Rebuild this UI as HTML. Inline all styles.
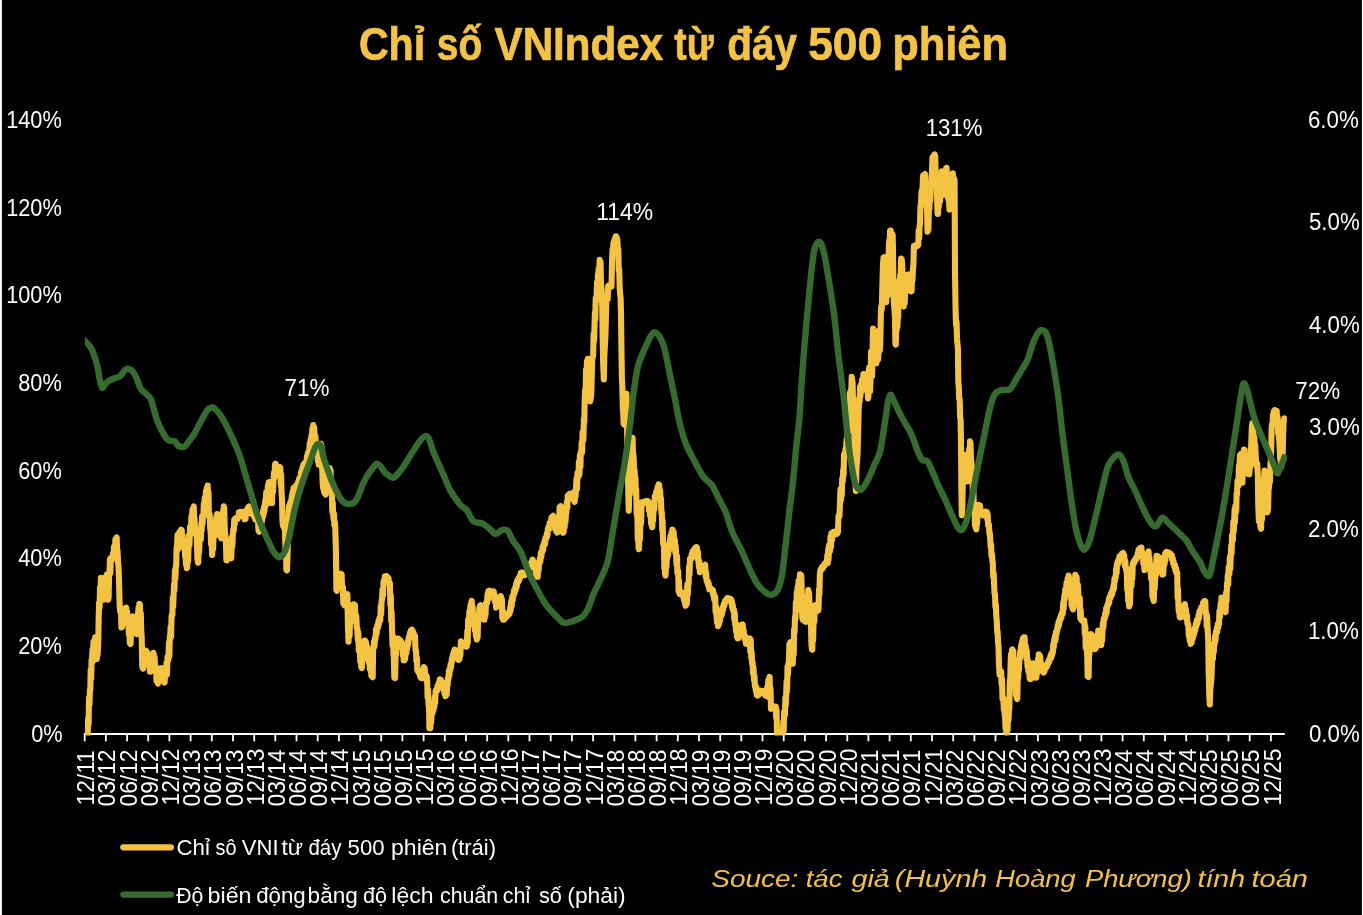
<!DOCTYPE html>
<html lang="vi"><head><meta charset="utf-8"><title>Chỉ số VNIndex từ đáy 500 phiên</title>
<style>html,body{margin:0;padding:0;background:#000}body{width:1363px;height:915px;overflow:hidden;position:relative}svg{will-change:transform;position:absolute;left:0;top:0;display:block}text{font-family:"Liberation Sans",sans-serif}</style></head><body>
<svg width="1363" height="915" viewBox="0 0 1363 915">
<rect x="0" y="0" width="1363" height="915" fill="#000"/>
<rect x="0" y="0" width="1.9" height="915" fill="#fff"/>
<rect x="1361.9" y="0" width="1.1" height="915" fill="#fff"/>
<g stroke="#F5C342" stroke-width="0.7" stroke-linejoin="round">
<text y="59.60" font-size="46" fill="#F5C342" font-weight="bold"><tspan x="358.91" textLength="66.29" lengthAdjust="spacingAndGlyphs">Chỉ</tspan> <tspan x="436.85" textLength="45.37" lengthAdjust="spacingAndGlyphs">số</tspan> <tspan x="494.50" textLength="168.72" lengthAdjust="spacingAndGlyphs">VNIndex</tspan> <tspan x="674.30" textLength="39.34" lengthAdjust="spacingAndGlyphs">từ</tspan> <tspan x="727.22" textLength="69.71" lengthAdjust="spacingAndGlyphs">đáy</tspan> <tspan x="808.24" textLength="73.78" lengthAdjust="spacingAndGlyphs">500</tspan> <tspan x="892.27" textLength="115.71" lengthAdjust="spacingAndGlyphs">phiên</tspan></text>
</g>
<text transform="translate(31.23 741.50) scale(0.9222 1)" font-size="23.6" fill="#fff">0%</text>
<text transform="translate(18.23 653.86) scale(0.9222 1)" font-size="23.6" fill="#fff">20%</text>
<text transform="translate(18.23 566.21) scale(0.9222 1)" font-size="23.6" fill="#fff">40%</text>
<text transform="translate(18.23 478.57) scale(0.9222 1)" font-size="23.6" fill="#fff">60%</text>
<text transform="translate(18.23 390.93) scale(0.9222 1)" font-size="23.6" fill="#fff">80%</text>
<text transform="translate(6.13 303.29) scale(0.9222 1)" font-size="23.6" fill="#fff">100%</text>
<text transform="translate(6.13 215.64) scale(0.9222 1)" font-size="23.6" fill="#fff">120%</text>
<text transform="translate(6.13 128.00) scale(0.9222 1)" font-size="23.6" fill="#fff">140%</text>
<text transform="translate(1308.90 741.50) scale(0.9451 1)" font-size="23.6" fill="#fff">0.0%</text>
<text transform="translate(1307.95 639.25) scale(0.9451 1)" font-size="23.6" fill="#fff">1.0%</text>
<text transform="translate(1307.95 537.00) scale(0.9451 1)" font-size="23.6" fill="#fff">2.0%</text>
<text transform="translate(1308.90 434.75) scale(0.9451 1)" font-size="23.6" fill="#fff">3.0%</text>
<text transform="translate(1308.90 332.50) scale(0.9451 1)" font-size="23.6" fill="#fff">4.0%</text>
<text transform="translate(1308.90 230.25) scale(0.9451 1)" font-size="23.6" fill="#fff">5.0%</text>
<text transform="translate(1307.95 128.00) scale(0.9451 1)" font-size="23.6" fill="#fff">6.0%</text>
<path d="M83.8 734.0 H1284.8" stroke="#fff" stroke-width="1.8" fill="none"/>
<path d="M84.7 733.5 V741.3 M105.9 733.5 V741.3 M127.1 733.5 V741.3 M148.2 733.5 V741.3 M169.4 733.5 V741.3 M190.6 733.5 V741.3 M211.8 733.5 V741.3 M233.0 733.5 V741.3 M254.2 733.5 V741.3 M275.3 733.5 V741.3 M296.5 733.5 V741.3 M317.7 733.5 V741.3 M338.9 733.5 V741.3 M360.1 733.5 V741.3 M381.2 733.5 V741.3 M402.4 733.5 V741.3 M423.6 733.5 V741.3 M444.8 733.5 V741.3 M466.0 733.5 V741.3 M487.2 733.5 V741.3 M508.3 733.5 V741.3 M529.5 733.5 V741.3 M550.7 733.5 V741.3 M571.9 733.5 V741.3 M593.1 733.5 V741.3 M614.3 733.5 V741.3 M635.4 733.5 V741.3 M656.6 733.5 V741.3 M677.8 733.5 V741.3 M699.0 733.5 V741.3 M720.2 733.5 V741.3 M741.3 733.5 V741.3 M762.5 733.5 V741.3 M783.7 733.5 V741.3 M804.9 733.5 V741.3 M826.1 733.5 V741.3 M847.3 733.5 V741.3 M868.4 733.5 V741.3 M889.6 733.5 V741.3 M910.8 733.5 V741.3 M932.0 733.5 V741.3 M953.2 733.5 V741.3 M974.4 733.5 V741.3 M995.5 733.5 V741.3 M1016.7 733.5 V741.3 M1037.9 733.5 V741.3 M1059.1 733.5 V741.3 M1080.3 733.5 V741.3 M1101.4 733.5 V741.3 M1122.6 733.5 V741.3 M1143.8 733.5 V741.3 M1165.0 733.5 V741.3 M1186.2 733.5 V741.3 M1207.4 733.5 V741.3 M1228.5 733.5 V741.3 M1249.7 733.5 V741.3 M1270.9 733.5 V741.3" stroke="#fff" stroke-width="1.8" fill="none"/>
<text transform="translate(94.30 805.53) rotate(-90) scale(0.9651 1)" font-size="23.6" fill="#fff">12/11</text>
<text transform="translate(115.48 806.50) rotate(-90) scale(0.9651 1)" font-size="23.6" fill="#fff">03/12</text>
<text transform="translate(136.66 806.50) rotate(-90) scale(0.9651 1)" font-size="23.6" fill="#fff">06/12</text>
<text transform="translate(157.85 806.50) rotate(-90) scale(0.9651 1)" font-size="23.6" fill="#fff">09/12</text>
<text transform="translate(179.03 805.53) rotate(-90) scale(0.9651 1)" font-size="23.6" fill="#fff">12/12</text>
<text transform="translate(200.21 806.50) rotate(-90) scale(0.9651 1)" font-size="23.6" fill="#fff">03/13</text>
<text transform="translate(221.39 806.50) rotate(-90) scale(0.9651 1)" font-size="23.6" fill="#fff">06/13</text>
<text transform="translate(242.58 806.50) rotate(-90) scale(0.9651 1)" font-size="23.6" fill="#fff">09/13</text>
<text transform="translate(263.76 805.53) rotate(-90) scale(0.9651 1)" font-size="23.6" fill="#fff">12/13</text>
<text transform="translate(284.94 806.50) rotate(-90) scale(0.9651 1)" font-size="23.6" fill="#fff">03/14</text>
<text transform="translate(306.12 806.50) rotate(-90) scale(0.9651 1)" font-size="23.6" fill="#fff">06/14</text>
<text transform="translate(327.30 806.50) rotate(-90) scale(0.9651 1)" font-size="23.6" fill="#fff">09/14</text>
<text transform="translate(348.49 805.53) rotate(-90) scale(0.9651 1)" font-size="23.6" fill="#fff">12/14</text>
<text transform="translate(369.67 806.50) rotate(-90) scale(0.9651 1)" font-size="23.6" fill="#fff">03/15</text>
<text transform="translate(390.85 806.50) rotate(-90) scale(0.9651 1)" font-size="23.6" fill="#fff">06/15</text>
<text transform="translate(412.03 806.50) rotate(-90) scale(0.9651 1)" font-size="23.6" fill="#fff">09/15</text>
<text transform="translate(433.21 805.53) rotate(-90) scale(0.9651 1)" font-size="23.6" fill="#fff">12/15</text>
<text transform="translate(454.40 806.50) rotate(-90) scale(0.9651 1)" font-size="23.6" fill="#fff">03/16</text>
<text transform="translate(475.58 806.50) rotate(-90) scale(0.9651 1)" font-size="23.6" fill="#fff">06/16</text>
<text transform="translate(496.76 806.50) rotate(-90) scale(0.9651 1)" font-size="23.6" fill="#fff">09/16</text>
<text transform="translate(517.94 805.53) rotate(-90) scale(0.9651 1)" font-size="23.6" fill="#fff">12/16</text>
<text transform="translate(539.12 806.50) rotate(-90) scale(0.9651 1)" font-size="23.6" fill="#fff">03/17</text>
<text transform="translate(560.31 806.50) rotate(-90) scale(0.9651 1)" font-size="23.6" fill="#fff">06/17</text>
<text transform="translate(581.49 806.50) rotate(-90) scale(0.9651 1)" font-size="23.6" fill="#fff">09/17</text>
<text transform="translate(602.67 805.53) rotate(-90) scale(0.9651 1)" font-size="23.6" fill="#fff">12/17</text>
<text transform="translate(623.85 806.50) rotate(-90) scale(0.9651 1)" font-size="23.6" fill="#fff">03/18</text>
<text transform="translate(645.04 806.50) rotate(-90) scale(0.9651 1)" font-size="23.6" fill="#fff">06/18</text>
<text transform="translate(666.22 806.50) rotate(-90) scale(0.9651 1)" font-size="23.6" fill="#fff">09/18</text>
<text transform="translate(687.40 805.53) rotate(-90) scale(0.9651 1)" font-size="23.6" fill="#fff">12/18</text>
<text transform="translate(708.58 806.50) rotate(-90) scale(0.9651 1)" font-size="23.6" fill="#fff">03/19</text>
<text transform="translate(729.76 806.50) rotate(-90) scale(0.9651 1)" font-size="23.6" fill="#fff">06/19</text>
<text transform="translate(750.95 806.50) rotate(-90) scale(0.9651 1)" font-size="23.6" fill="#fff">09/19</text>
<text transform="translate(772.13 805.53) rotate(-90) scale(0.9651 1)" font-size="23.6" fill="#fff">12/19</text>
<text transform="translate(793.31 806.50) rotate(-90) scale(0.9651 1)" font-size="23.6" fill="#fff">03/20</text>
<text transform="translate(814.49 806.50) rotate(-90) scale(0.9651 1)" font-size="23.6" fill="#fff">06/20</text>
<text transform="translate(835.68 806.50) rotate(-90) scale(0.9651 1)" font-size="23.6" fill="#fff">09/20</text>
<text transform="translate(856.86 805.53) rotate(-90) scale(0.9651 1)" font-size="23.6" fill="#fff">12/20</text>
<text transform="translate(878.04 806.50) rotate(-90) scale(0.9651 1)" font-size="23.6" fill="#fff">03/21</text>
<text transform="translate(899.22 806.50) rotate(-90) scale(0.9651 1)" font-size="23.6" fill="#fff">06/21</text>
<text transform="translate(920.40 806.50) rotate(-90) scale(0.9651 1)" font-size="23.6" fill="#fff">09/21</text>
<text transform="translate(941.59 805.53) rotate(-90) scale(0.9651 1)" font-size="23.6" fill="#fff">12/21</text>
<text transform="translate(962.77 806.50) rotate(-90) scale(0.9651 1)" font-size="23.6" fill="#fff">03/22</text>
<text transform="translate(983.95 806.50) rotate(-90) scale(0.9651 1)" font-size="23.6" fill="#fff">06/22</text>
<text transform="translate(1005.13 806.50) rotate(-90) scale(0.9651 1)" font-size="23.6" fill="#fff">09/22</text>
<text transform="translate(1026.31 805.53) rotate(-90) scale(0.9651 1)" font-size="23.6" fill="#fff">12/22</text>
<text transform="translate(1047.50 806.50) rotate(-90) scale(0.9651 1)" font-size="23.6" fill="#fff">03/23</text>
<text transform="translate(1068.68 806.50) rotate(-90) scale(0.9651 1)" font-size="23.6" fill="#fff">06/23</text>
<text transform="translate(1089.86 806.50) rotate(-90) scale(0.9651 1)" font-size="23.6" fill="#fff">09/23</text>
<text transform="translate(1111.04 805.53) rotate(-90) scale(0.9651 1)" font-size="23.6" fill="#fff">12/23</text>
<text transform="translate(1132.22 806.50) rotate(-90) scale(0.9651 1)" font-size="23.6" fill="#fff">03/24</text>
<text transform="translate(1153.41 806.50) rotate(-90) scale(0.9651 1)" font-size="23.6" fill="#fff">06/24</text>
<text transform="translate(1174.59 806.50) rotate(-90) scale(0.9651 1)" font-size="23.6" fill="#fff">09/24</text>
<text transform="translate(1195.77 805.53) rotate(-90) scale(0.9651 1)" font-size="23.6" fill="#fff">12/24</text>
<text transform="translate(1216.95 806.50) rotate(-90) scale(0.9651 1)" font-size="23.6" fill="#fff">03/25</text>
<text transform="translate(1238.14 806.50) rotate(-90) scale(0.9651 1)" font-size="23.6" fill="#fff">06/25</text>
<text transform="translate(1259.32 806.50) rotate(-90) scale(0.9651 1)" font-size="23.6" fill="#fff">09/25</text>
<text transform="translate(1280.50 805.53) rotate(-90) scale(0.9651 1)" font-size="23.6" fill="#fff">12/25</text>
<clipPath id="plot"><rect x="84.9" y="100" width="1202" height="635.5"/></clipPath>
<path d="M87.7 733.6 L88.1 718.8 L88.6 724.1 L89.0 697.8 L89.5 704.5 L89.9 689.7 L90.3 689.9 L90.7 669.7 L91.2 678.5 L91.6 659.8 L92.0 660.0 L92.5 649.6 L92.9 661.2 L93.4 642.1 L93.8 650.0 L94.3 640.6 L94.7 646.5 L95.2 637.3 L95.6 651.8 L96.0 648.0 L96.4 645.8 L96.8 658.9 L97.2 646.9 L97.6 654.9 L98.2 644.6 L98.7 617.0 L99.1 602.7 L99.6 607.8 L100.0 587.6 L100.5 591.9 L100.9 577.9 L101.3 586.1 L101.8 582.2 L102.2 595.7 L102.7 591.7 L103.1 599.8 L103.6 588.9 L104.0 595.8 L104.5 585.0 L105.0 586.2 L105.5 577.4 L105.9 581.2 L106.4 575.7 L106.9 574.5 L107.3 595.9 L107.8 586.8 L108.2 599.8 L108.6 597.6 L109.1 573.8 L109.5 575.0 L109.9 559.4 L110.4 572.9 L110.8 558.1 L111.2 559.2 L111.7 558.1 L112.1 559.5 L112.5 559.2 L113.0 553.6 L113.5 555.8 L114.0 546.8 L114.5 548.0 L115.0 548.5 L115.4 539.4 L115.8 543.8 L116.3 538.6 L116.7 537.4 L117.1 551.2 L117.5 550.0 L118.0 562.7 L118.5 566.4 L119.0 579.4 L119.6 603.8 L120.1 611.2 L120.6 610.0 L121.0 608.8 L121.4 627.4 L121.8 626.2 L122.2 626.9 L122.7 618.0 L123.1 621.8 L123.6 610.8 L124.0 612.0 L124.4 610.0 L124.9 611.1 L125.3 608.2 L125.8 610.2 L126.2 607.6 L126.7 616.8 L127.1 611.5 L127.5 622.2 L128.0 622.0 L128.4 622.3 L128.9 634.0 L129.3 627.7 L129.8 642.8 L130.2 642.8 L130.6 644.0 L131.1 624.8 L131.5 626.0 L131.9 619.5 L132.4 624.7 L132.8 616.4 L133.2 618.3 L133.6 616.6 L134.0 620.1 L134.4 620.0 L134.8 619.1 L135.2 629.9 L135.7 626.0 L136.1 632.9 L136.6 634.1 L137.1 617.2 L137.5 624.2 L138.0 615.0 L138.5 608.0 L138.9 612.2 L139.4 603.9 L139.9 604.3 L140.3 622.1 L140.8 613.4 L141.2 630.0 L141.7 637.6 L142.2 665.3 L142.7 668.1 L143.1 668.6 L143.5 657.6 L143.9 664.0 L144.3 655.0 L144.7 652.5 L145.2 654.2 L145.6 650.6 L146.0 650.6 L146.5 654.0 L147.0 651.9 L147.5 657.9 L148.0 658.0 L148.5 657.2 L149.0 665.7 L149.4 662.5 L149.9 671.5 L150.4 670.3 L150.8 671.5 L151.2 661.2 L151.6 667.4 L152.0 660.0 L152.4 656.8 L152.8 658.5 L153.3 652.7 L153.7 653.9 L154.1 663.1 L154.6 657.2 L155.1 668.0 L155.5 668.0 L156.0 666.8 L156.5 680.8 L157.0 675.6 L157.5 682.4 L158.0 683.6 L158.5 673.2 L159.0 677.9 L159.5 672.0 L160.0 669.8 L160.4 671.0 L160.9 668.3 L161.4 668.2 L161.9 675.2 L162.3 670.8 L162.8 676.0 L163.2 675.0 L163.7 681.5 L164.1 681.3 L164.6 682.5 L165.1 673.5 L165.5 676.8 L166.0 672.0 L166.5 663.1 L167.0 674.3 L167.5 656.9 L168.0 658.9 L168.4 660.2 L168.9 642.9 L169.3 656.1 L169.8 636.5 L170.2 639.0 L170.6 627.0 L171.1 636.7 L171.6 615.3 L172.0 615.0 L172.4 615.1 L172.8 597.9 L173.2 606.5 L173.6 595.0 L174.0 584.5 L174.5 590.1 L174.9 570.6 L175.4 578.5 L175.8 566.4 L176.2 566.3 L176.6 547.2 L177.0 548.0 L177.5 535.1 L178.0 549.2 L178.5 536.0 L179.0 536.6 L179.4 532.2 L179.9 534.3 L180.4 530.7 L180.8 531.6 L181.3 529.6 L181.7 530.1 L182.2 545.4 L182.6 535.5 L183.0 546.2 L183.4 547.4 L183.8 541.7 L184.2 541.6 L184.6 540.4 L185.1 556.3 L185.5 547.9 L185.9 564.4 L186.4 555.5 L186.8 568.1 L187.2 567.7 L187.7 550.9 L188.1 561.1 L188.5 548.0 L189.0 535.4 L189.5 544.9 L190.0 526.8 L190.5 528.0 L191.0 529.2 L191.5 515.8 L191.9 521.5 L192.4 509.7 L192.9 516.4 L193.4 507.6 L193.8 506.4 L194.2 527.2 L194.6 518.0 L195.0 533.2 L195.4 534.2 L195.9 529.0 L196.3 529.6 L196.8 532.3 L197.3 557.5 L197.8 561.5 L198.2 562.7 L198.7 546.7 L199.1 552.5 L199.6 538.8 L200.0 540.0 L200.4 529.7 L200.9 539.1 L201.3 523.6 L201.7 530.2 L202.1 516.4 L202.6 523.7 L203.0 515.0 L203.4 516.0 L203.8 503.7 L204.2 508.9 L204.7 498.0 L205.1 502.7 L205.5 497.0 L205.9 491.4 L206.4 495.5 L206.8 487.7 L207.3 491.4 L207.7 485.6 L208.1 500.2 L208.5 492.4 L208.9 516.2 L209.3 515.0 L209.7 514.5 L210.2 529.2 L210.6 530.0 L211.1 544.5 L211.6 538.4 L212.1 554.9 L212.6 545.2 L213.1 549.5 L213.5 533.8 L214.0 535.0 L214.5 536.2 L215.0 523.3 L215.5 529.4 L216.0 520.0 L216.4 516.7 L216.8 519.6 L217.2 514.0 L217.6 514.2 L218.0 522.1 L218.4 515.3 L218.9 529.2 L219.3 528.0 L219.7 526.8 L220.1 535.7 L220.5 531.3 L220.9 537.2 L221.3 538.3 L221.7 524.1 L222.1 530.5 L222.5 520.0 L222.9 511.5 L223.3 519.2 L223.8 506.4 L224.2 507.6 L224.8 531.0 L225.3 535.0 L225.9 541.7 L226.4 560.4 L226.8 560.5 L227.2 555.8 L227.7 558.0 L228.1 553.4 L228.5 553.6 L229.0 553.3 L229.4 556.2 L229.9 554.6 L230.3 557.3 L230.8 557.1 L231.3 558.3 L231.8 537.3 L232.3 546.7 L232.8 535.0 L233.3 529.0 L233.8 531.0 L234.2 520.0 L234.7 524.5 L235.2 518.6 L235.7 519.4 L236.1 518.2 L236.6 519.5 L237.0 518.3 L237.5 519.2 L238.0 516.3 L238.5 517.3 L239.0 512.3 L239.5 512.6 L239.9 513.0 L240.3 511.9 L240.8 513.1 L241.2 512.2 L241.6 513.0 L242.1 512.0 L242.5 513.2 L242.9 512.6 L243.3 511.9 L243.7 516.7 L244.2 513.9 L244.6 519.3 L245.0 518.2 L245.5 518.9 L246.0 512.2 L246.5 514.5 L247.0 510.0 L247.4 508.7 L247.8 509.5 L248.2 507.3 L248.7 508.9 L249.1 506.4 L249.5 506.6 L249.9 509.1 L250.3 507.4 L250.8 511.8 L251.2 509.3 L251.6 513.9 L252.0 513.2 L252.5 512.6 L253.0 513.9 L253.5 512.8 L254.0 513.6 L254.4 517.1 L254.8 514.8 L255.3 519.5 L255.7 516.3 L256.1 519.6 L256.6 519.4 L257.1 520.7 L257.5 519.6 L258.0 520.6 L258.5 530.5 L258.9 523.8 L259.4 531.8 L259.8 526.4 L260.2 531.4 L260.7 521.6 L261.1 527.2 L261.5 521.0 L261.9 521.7 L262.4 514.3 L262.8 517.4 L263.2 510.4 L263.6 514.9 L264.0 506.8 L264.5 510.9 L264.9 506.0 L265.3 500.1 L265.7 505.5 L266.2 492.3 L266.6 500.1 L267.0 492.0 L267.5 492.6 L267.9 485.8 L268.4 488.8 L268.8 482.2 L269.3 483.4 L269.7 482.2 L270.2 495.2 L270.6 491.2 L271.1 503.0 L271.5 502.0 L272.0 503.2 L272.5 483.3 L273.0 491.8 L273.5 480.0 L274.0 472.8 L274.5 477.7 L275.0 464.5 L275.5 463.6 L276.0 469.1 L276.4 465.8 L276.9 472.4 L277.3 468.7 L277.8 474.2 L278.2 472.0 L278.6 473.3 L279.1 469.5 L279.5 471.9 L279.9 467.1 L280.3 468.0 L280.7 484.3 L281.1 474.3 L281.5 492.0 L282.0 499.5 L282.5 521.4 L283.0 525.7 L283.5 523.3 L284.0 527.9 L284.5 528.0 L285.0 529.1 L285.5 551.0 L285.9 544.9 L286.4 569.9 L286.9 570.3 L287.4 560.0 L288.0 535.0 L288.6 511.4 L289.1 506.0 L289.6 506.4 L290.1 502.9 L290.5 504.2 L291.0 500.3 L291.5 501.0 L291.9 495.3 L292.3 499.2 L292.8 491.4 L293.2 496.9 L293.6 488.1 L294.0 489.0 L294.4 489.4 L294.9 487.2 L295.3 488.3 L295.7 485.8 L296.2 487.2 L296.6 485.1 L297.0 486.4 L297.5 483.6 L297.9 484.0 L298.3 481.2 L298.7 483.8 L299.2 478.6 L299.6 480.9 L300.0 478.0 L300.5 478.7 L301.0 472.4 L301.5 474.5 L302.0 470.0 L302.4 467.7 L302.8 470.0 L303.2 465.2 L303.7 467.3 L304.1 463.7 L304.5 464.2 L305.0 464.3 L305.5 462.3 L306.0 463.6 L306.5 462.0 L307.0 456.3 L307.5 460.3 L307.9 453.1 L308.4 455.3 L308.9 451.0 L309.3 452.1 L309.7 443.3 L310.2 447.0 L310.6 439.8 L311.0 441.0 L311.5 435.2 L311.9 437.8 L312.4 428.2 L312.8 432.9 L313.3 425.1 L313.7 431.1 L314.1 427.2 L314.6 437.2 L315.0 436.0 L315.4 435.9 L315.8 446.0 L316.2 441.2 L316.6 446.7 L317.0 455.1 L317.5 450.0 L317.9 461.2 L318.4 456.2 L318.8 464.7 L319.4 452.0 L319.9 452.0 L320.4 451.9 L321.0 443.9 L321.4 445.2 L321.8 467.4 L322.2 468.0 L322.7 483.6 L323.2 488.5 L323.6 488.4 L324.1 492.0 L324.5 489.8 L325.0 493.8 L325.4 493.3 L325.8 494.5 L326.2 482.6 L326.7 489.5 L327.1 477.7 L327.5 478.0 L328.0 473.0 L328.4 477.2 L328.9 468.7 L329.3 472.3 L329.8 468.1 L330.2 480.3 L330.6 470.5 L331.1 491.7 L331.5 492.0 L331.9 490.8 L332.3 511.7 L332.7 502.3 L333.1 512.7 L333.5 519.0 L334.0 514.0 L334.4 525.2 L334.9 522.1 L335.3 528.0 L335.9 550.0 L336.4 590.1 L336.8 590.8 L337.2 582.6 L337.7 586.1 L338.1 579.4 L338.5 580.0 L339.0 576.8 L339.4 578.6 L339.9 574.9 L340.3 576.9 L340.8 573.7 L341.2 583.7 L341.6 574.2 L342.1 587.9 L342.5 588.0 L342.9 586.8 L343.3 603.2 L343.7 594.2 L344.1 604.2 L344.5 605.4 L345.0 597.9 L345.4 600.0 L345.8 596.0 L346.2 595.0 L346.6 595.7 L347.0 593.9 L347.4 594.4 L347.9 625.4 L348.5 641.7 L349.0 630.7 L349.5 636.1 L350.0 622.6 L350.5 622.0 L351.0 621.7 L351.5 609.8 L352.0 617.1 L352.5 608.0 L353.0 604.7 L353.5 606.6 L354.0 604.3 L354.4 610.2 L354.9 605.1 L355.4 617.8 L355.8 617.0 L356.3 615.8 L356.8 628.1 L357.3 628.0 L357.8 639.7 L358.3 632.5 L358.8 650.6 L359.3 650.0 L359.8 648.9 L360.3 661.6 L360.8 657.0 L361.3 667.0 L361.8 668.2 L362.2 656.0 L362.7 660.2 L363.2 652.0 L363.6 644.8 L364.1 649.8 L364.6 640.6 L365.0 640.6 L365.4 644.3 L365.9 641.8 L366.4 647.7 L366.8 648.0 L367.3 646.8 L367.8 655.5 L368.3 654.5 L368.8 662.4 L369.3 656.2 L369.8 669.0 L370.3 668.0 L370.8 667.8 L371.3 675.3 L371.8 672.0 L372.3 676.9 L372.7 677.2 L373.1 648.7 L373.5 648.0 L374.0 641.5 L374.5 646.5 L375.0 638.0 L375.5 639.0 L376.0 629.4 L376.5 634.2 L377.0 628.0 L377.5 624.8 L378.0 627.5 L378.4 621.2 L378.9 624.3 L379.4 618.4 L379.9 619.2 L380.3 620.4 L380.7 606.6 L381.2 613.9 L381.6 600.2 L382.0 600.0 L382.5 589.9 L383.0 595.7 L383.5 581.3 L384.0 580.0 L384.5 580.2 L384.9 576.3 L385.4 576.8 L385.8 576.2 L386.2 577.3 L386.7 576.1 L387.1 577.6 L387.5 577.0 L388.0 580.1 L388.5 577.9 L389.0 583.4 L389.5 583.0 L389.9 583.1 L390.3 604.6 L390.8 595.5 L391.2 621.0 L391.6 612.1 L392.0 628.0 L392.5 645.7 L393.0 636.1 L393.5 655.0 L393.9 657.7 L394.3 677.5 L394.7 676.9 L395.1 678.1 L395.6 656.4 L396.0 655.0 L396.5 643.6 L397.0 648.2 L397.5 638.5 L397.9 639.5 L398.3 638.6 L398.8 640.3 L399.2 639.5 L399.6 641.7 L400.0 641.0 L400.4 640.5 L400.8 644.0 L401.2 641.7 L401.7 645.7 L402.1 643.4 L402.5 646.0 L402.9 655.4 L403.3 646.7 L403.7 660.4 L404.1 660.4 L404.6 655.5 L405.1 659.3 L405.5 652.4 L406.0 652.0 L406.4 653.2 L406.8 645.9 L407.2 648.8 L407.7 641.9 L408.1 644.8 L408.5 640.0 L409.0 636.4 L409.4 638.3 L409.9 633.0 L410.4 635.9 L410.9 630.6 L411.3 633.1 L411.8 629.6 L412.2 632.4 L412.7 630.6 L413.1 635.2 L413.6 632.8 L414.1 637.2 L414.5 637.0 L415.0 635.8 L415.5 649.9 L416.0 650.0 L416.4 661.2 L416.9 657.4 L417.3 669.9 L417.7 669.9 L418.2 671.9 L418.6 670.6 L419.1 673.3 L419.5 673.0 L420.0 676.4 L420.5 673.7 L421.0 678.0 L421.5 678.2 L422.0 672.2 L422.5 677.4 L422.9 669.7 L423.4 672.9 L423.9 667.1 L424.3 671.8 L424.7 668.2 L425.1 676.2 L425.5 675.0 L425.9 674.8 L426.4 680.2 L426.8 676.7 L427.2 681.0 L427.6 697.5 L428.1 689.9 L428.5 705.0 L429.0 703.8 L429.4 728.3 L429.9 727.1 L430.3 728.3 L430.7 717.9 L431.1 722.9 L431.5 715.0 L432.0 711.4 L432.5 713.4 L432.9 708.9 L433.4 710.7 L433.9 707.0 L434.3 707.0 L434.7 697.0 L435.2 702.7 L435.6 691.0 L436.0 692.0 L436.5 689.0 L437.0 690.9 L437.5 685.8 L438.0 686.0 L438.5 686.7 L439.0 682.2 L439.4 684.6 L439.9 679.4 L440.4 680.3 L440.8 679.6 L441.2 683.3 L441.7 682.1 L442.1 685.9 L442.5 685.0 L442.9 688.6 L443.4 685.6 L443.8 690.7 L444.2 688.7 L444.6 693.8 L445.0 691.0 L445.5 696.3 L445.9 695.6 L446.3 686.7 L446.7 694.4 L447.2 681.3 L447.6 685.5 L448.0 678.0 L448.4 679.2 L448.9 670.9 L449.3 675.8 L449.7 669.0 L450.1 670.5 L450.5 664.8 L451.0 667.6 L451.4 663.3 L451.9 658.6 L452.3 661.1 L452.8 654.8 L453.3 657.1 L453.8 651.7 L454.2 654.3 L454.7 649.5 L455.2 653.1 L455.6 650.3 L456.1 655.8 L456.5 653.6 L457.0 657.0 L457.4 656.8 L457.8 658.7 L458.3 657.4 L458.7 659.9 L459.1 659.3 L459.5 659.0 L460.0 649.5 L460.4 654.8 L460.9 641.4 L461.3 642.6 L461.8 642.1 L462.2 644.0 L462.6 643.1 L463.1 644.8 L463.6 643.6 L464.0 645.0 L464.5 645.7 L465.0 644.7 L465.4 646.4 L465.9 645.2 L466.4 646.6 L466.9 646.1 L467.3 631.0 L467.7 642.6 L468.1 619.7 L468.5 620.0 L469.0 620.4 L469.4 611.4 L469.9 615.9 L470.4 605.5 L470.8 607.6 L471.3 602.1 L471.7 600.9 L472.2 612.6 L472.6 606.8 L473.1 618.4 L473.5 618.0 L474.0 625.7 L474.4 621.5 L474.9 630.2 L475.4 626.0 L475.9 636.0 L476.3 633.2 L476.8 639.5 L477.2 626.8 L477.6 637.4 L478.1 619.3 L478.5 620.0 L478.9 620.2 L479.3 608.1 L479.7 615.4 L480.1 605.6 L480.5 605.3 L481.0 609.4 L481.4 607.4 L481.9 612.6 L482.3 612.0 L482.7 616.3 L483.2 612.3 L483.6 619.3 L484.1 616.1 L484.5 619.6 L485.0 609.5 L485.5 615.4 L486.0 603.0 L486.5 603.0 L487.0 603.3 L487.5 594.3 L487.9 599.7 L488.4 591.1 L488.9 591.1 L489.3 590.7 L489.7 592.1 L490.2 591.2 L490.6 592.6 L491.0 592.2 L491.5 592.7 L491.9 591.7 L492.4 592.7 L492.8 591.4 L493.3 592.1 L493.8 591.5 L494.2 599.4 L494.7 595.5 L495.2 602.2 L495.7 599.2 L496.1 607.6 L496.6 606.4 L497.1 606.5 L497.6 601.9 L498.0 603.7 L498.5 600.0 L498.9 598.4 L499.3 599.9 L499.8 597.0 L500.2 598.8 L500.6 596.0 L501.0 596.6 L501.4 605.3 L501.9 599.5 L502.3 617.8 L502.8 610.8 L503.2 619.6 L503.7 618.5 L504.1 619.6 L504.6 616.9 L505.0 618.1 L505.5 617.0 L505.9 617.5 L506.4 615.5 L506.8 616.7 L507.2 614.3 L507.6 615.5 L508.1 613.7 L508.5 614.9 L508.9 612.6 L509.4 614.0 L509.8 612.6 L510.3 607.2 L510.7 610.3 L511.2 600.8 L511.7 606.1 L512.2 596.9 L512.6 600.8 L513.1 595.0 L513.6 595.7 L514.0 590.6 L514.5 593.4 L515.0 590.0 L515.4 586.8 L515.8 589.7 L516.2 583.7 L516.7 587.1 L517.1 580.7 L517.5 581.8 L518.0 582.4 L518.5 578.3 L519.0 580.6 L519.5 578.0 L520.0 575.3 L520.5 577.3 L520.9 572.9 L521.4 575.3 L521.9 572.4 L522.3 573.8 L522.7 572.6 L523.2 574.6 L523.6 573.4 L524.0 575.0 L524.5 573.7 L524.9 575.0 L525.4 573.5 L525.8 574.3 L526.3 573.4 L526.8 573.7 L527.2 570.5 L527.7 572.4 L528.1 568.9 L528.6 569.9 L529.0 567.0 L529.5 567.0 L529.9 564.7 L530.4 566.9 L530.8 563.5 L531.2 564.5 L531.6 561.6 L532.0 563.3 L532.5 559.5 L532.9 560.3 L533.3 563.6 L533.7 562.0 L534.2 567.4 L534.6 565.3 L535.0 569.0 L535.5 568.9 L535.9 574.4 L536.4 571.4 L536.8 576.8 L537.3 576.7 L537.7 576.7 L538.2 568.2 L538.6 571.2 L539.1 561.8 L539.5 563.0 L539.9 558.3 L540.4 561.7 L540.8 552.8 L541.3 557.2 L541.7 552.1 L542.2 552.2 L542.6 546.8 L543.1 550.3 L543.5 544.8 L544.0 545.0 L544.5 541.1 L545.0 544.3 L545.5 537.7 L546.0 538.0 L546.5 538.1 L546.9 533.5 L547.4 536.0 L547.8 529.1 L548.3 530.1 L548.7 526.5 L549.2 529.1 L549.6 523.0 L550.1 525.5 L550.5 522.0 L550.9 523.1 L551.4 517.9 L551.8 519.9 L552.3 516.4 L552.7 516.3 L553.2 515.8 L553.6 522.4 L554.1 519.0 L554.5 527.0 L555.0 526.0 L555.4 529.4 L555.8 527.2 L556.3 531.5 L556.7 529.7 L557.1 532.7 L557.5 525.4 L558.0 531.9 L558.4 517.8 L558.8 519.0 L559.2 520.2 L559.6 507.4 L560.0 513.8 L560.4 507.4 L560.8 506.2 L561.2 517.1 L561.6 511.3 L562.0 520.0 L562.4 525.4 L562.9 520.8 L563.3 532.8 L563.7 531.6 L564.2 522.0 L564.6 527.4 L565.1 516.5 L565.5 522.2 L566.0 513.0 L566.4 512.9 L566.8 502.2 L567.3 507.8 L567.7 495.8 L568.1 497.0 L568.6 495.1 L569.0 496.9 L569.5 493.8 L570.0 494.0 L570.5 494.8 L570.9 493.6 L571.4 494.2 L571.9 493.4 L572.4 497.3 L572.8 495.7 L573.3 499.6 L573.8 498.1 L574.3 500.7 L574.7 501.9 L575.1 491.1 L575.6 496.6 L576.0 488.0 L576.5 478.7 L577.0 488.7 L577.5 472.9 L578.0 475.0 L578.5 476.6 L578.9 461.8 L579.4 474.3 L579.9 455.1 L580.4 467.0 L580.8 451.9 L581.3 453.0 L581.7 442.4 L582.1 452.3 L582.6 432.0 L583.0 436.0 L583.4 440.0 L583.9 418.6 L584.3 422.0 L584.7 400.0 L585.1 390.1 L585.6 391.1 L586.0 369.8 L586.5 372.0 L587.0 361.1 L587.5 370.8 L588.0 358.7 L588.4 373.1 L588.9 367.3 L589.3 380.0 L589.7 377.2 L590.2 401.4 L590.6 399.3 L591.2 395.5 L591.7 378.0 L592.2 359.1 L592.8 357.1 L593.2 355.3 L593.6 334.0 L594.1 340.6 L594.5 326.0 L594.9 312.9 L595.3 319.1 L595.7 298.3 L596.1 297.6 L596.5 300.1 L597.0 282.5 L597.4 291.9 L597.9 274.3 L598.3 277.0 L598.7 268.3 L599.2 280.5 L599.6 259.8 L600.1 271.7 L600.5 261.8 L601.0 282.2 L601.6 290.0 L602.2 306.0 L602.7 340.0 L603.2 364.8 L603.8 379.5 L604.3 357.0 L604.9 345.0 L605.5 334.0 L606.0 313.0 L606.5 297.3 L607.1 298.0 L607.7 299.2 L608.2 286.0 L608.7 285.6 L609.1 286.6 L609.5 285.4 L610.0 286.2 L610.5 287.0 L611.0 286.1 L611.5 286.6 L612.0 262.2 L612.6 249.2 L613.1 249.0 L613.5 242.6 L614.0 245.0 L614.5 240.0 L615.0 238.3 L615.5 239.9 L615.9 236.2 L616.4 236.5 L616.9 246.7 L617.3 239.2 L617.8 250.0 L618.3 248.8 L618.7 270.2 L619.2 269.0 L619.7 288.6 L620.2 295.0 L620.6 297.7 L621.0 313.0 L621.5 352.8 L621.9 379.1 L622.3 385.5 L622.8 407.8 L623.2 412.1 L623.6 423.3 L624.0 412.1 L624.4 424.6 L625.0 403.5 L625.5 400.0 L625.9 401.2 L626.3 393.9 L626.6 400.7 L627.0 423.1 L627.5 449.6 L627.9 460.5 L628.3 495.1 L628.8 510.6 L629.2 492.4 L629.6 495.4 L630.1 473.6 L630.5 470.0 L630.9 469.6 L631.3 445.7 L631.7 455.8 L632.1 439.0 L632.6 437.8 L633.0 454.6 L633.5 455.0 L634.1 470.6 L634.5 469.4 L635.0 478.2 L635.4 477.0 L635.8 494.0 L636.2 489.6 L636.6 512.8 L637.0 515.0 L637.4 518.0 L637.8 539.9 L638.2 529.8 L638.6 548.0 L639.0 549.2 L639.5 527.6 L639.9 539.1 L640.3 524.0 L640.7 513.5 L641.1 523.1 L641.6 502.3 L642.0 503.5 L642.5 503.8 L642.9 502.6 L643.4 503.4 L643.9 502.0 L644.4 503.2 L644.8 501.7 L645.3 502.0 L645.8 501.2 L646.2 502.5 L646.7 501.3 L647.2 502.3 L647.7 501.1 L648.1 502.2 L648.6 501.8 L649.0 510.3 L649.5 503.6 L649.9 515.2 L650.3 514.0 L650.7 512.8 L651.1 523.6 L651.5 517.2 L651.9 526.0 L652.3 527.2 L652.7 510.8 L653.1 520.3 L653.5 510.0 L653.9 503.5 L654.4 509.1 L654.8 496.4 L655.2 496.9 L655.7 497.9 L656.2 491.8 L656.7 493.9 L657.2 490.0 L657.7 486.7 L658.2 488.6 L658.7 484.4 L659.2 484.8 L659.6 493.2 L660.1 489.8 L660.5 498.0 L660.9 497.9 L661.4 513.2 L661.8 512.0 L662.2 529.9 L662.6 520.4 L663.1 542.9 L663.5 545.0 L663.9 544.2 L664.3 568.3 L664.7 560.5 L665.1 574.4 L665.5 575.6 L666.0 562.5 L666.4 567.3 L666.9 557.9 L667.3 558.0 L667.7 551.1 L668.2 554.9 L668.6 545.4 L669.1 550.3 L669.5 543.1 L669.9 543.2 L670.4 536.2 L670.8 539.3 L671.2 535.0 L671.6 532.0 L672.0 534.2 L672.4 529.6 L672.8 530.4 L673.2 535.4 L673.6 531.6 L674.1 541.0 L674.5 541.0 L674.9 539.8 L675.3 552.6 L675.7 546.1 L676.1 554.0 L676.5 564.3 L677.0 556.3 L677.4 573.2 L677.8 572.0 L678.2 570.8 L678.6 591.2 L679.0 580.7 L679.4 593.2 L679.8 593.9 L680.2 592.2 L680.7 593.6 L681.1 592.2 L681.5 592.6 L682.0 592.4 L682.5 595.5 L683.0 593.7 L683.5 596.0 L683.9 599.8 L684.3 596.8 L684.8 602.8 L685.2 599.3 L685.6 605.7 L686.0 605.3 L686.4 596.9 L686.9 603.3 L687.3 584.2 L687.8 594.4 L688.2 583.0 L688.6 584.2 L689.1 566.5 L689.5 574.4 L690.0 558.8 L690.4 560.0 L690.8 557.4 L691.3 558.7 L691.7 554.2 L692.1 556.5 L692.6 551.6 L693.0 552.0 L693.4 552.1 L693.9 549.6 L694.3 551.2 L694.7 548.7 L695.1 549.8 L695.5 547.3 L696.0 548.4 L696.4 547.0 L696.9 547.7 L697.4 558.5 L697.9 551.6 L698.4 560.0 L698.9 567.0 L699.3 561.2 L699.8 572.2 L700.3 571.7 L700.7 569.6 L701.2 571.1 L701.6 568.1 L702.1 569.9 L702.5 568.0 L702.9 568.6 L703.4 566.4 L703.8 567.6 L704.3 565.5 L704.7 565.6 L705.2 564.7 L705.6 576.3 L706.1 572.0 L706.5 580.1 L707.0 580.0 L707.4 583.0 L707.9 581.1 L708.3 585.4 L708.7 583.0 L709.2 589.2 L709.6 588.2 L710.1 587.9 L710.6 589.4 L711.0 588.3 L711.5 589.8 L712.0 589.6 L712.5 592.3 L712.9 589.9 L713.4 595.5 L713.8 593.4 L714.2 599.2 L714.7 598.1 L715.2 596.9 L715.6 611.9 L716.0 606.5 L716.5 615.0 L717.0 622.4 L717.5 616.7 L718.0 626.2 L718.5 621.6 L718.9 624.5 L719.4 618.3 L719.9 621.3 L720.3 615.6 L720.8 616.0 L721.2 616.0 L721.7 609.8 L722.1 614.1 L722.6 607.6 L723.0 610.1 L723.5 606.0 L723.9 603.5 L724.4 605.8 L724.8 601.3 L725.3 602.4 L725.7 600.0 L726.1 600.5 L726.6 599.0 L727.0 600.1 L727.5 598.2 L727.9 598.8 L728.3 598.2 L728.8 599.4 L729.2 598.4 L729.7 599.9 L730.1 598.7 L730.6 599.7 L731.0 599.4 L731.4 603.2 L731.8 600.8 L732.2 607.6 L732.7 604.5 L733.1 610.1 L733.5 610.0 L733.9 609.7 L734.3 619.7 L734.8 613.5 L735.2 624.3 L735.6 623.6 L736.0 631.0 L736.5 624.4 L736.9 636.7 L737.4 632.3 L737.8 638.4 L738.2 634.8 L738.7 638.1 L739.1 630.8 L739.6 633.6 L740.0 630.0 L740.4 630.6 L740.9 627.1 L741.3 629.0 L741.8 624.8 L742.2 625.2 L742.7 624.6 L743.1 631.7 L743.6 629.4 L744.0 635.8 L744.5 635.0 L744.9 638.9 L745.3 636.5 L745.8 643.4 L746.2 640.4 L746.6 643.9 L747.1 642.2 L747.5 643.7 L748.0 640.7 L748.4 641.8 L748.9 638.9 L749.3 640.1 L749.8 638.5 L750.3 651.6 L750.7 639.8 L751.2 657.4 L751.6 652.2 L752.1 663.3 L752.6 662.1 L753.0 673.2 L753.5 667.5 L754.0 679.8 L754.5 676.1 L754.9 686.2 L755.4 685.3 L755.8 690.4 L756.3 686.9 L756.7 694.6 L757.2 690.2 L757.6 695.6 L758.1 693.7 L758.6 695.2 L759.0 691.9 L759.5 693.8 L760.0 690.7 L760.5 691.0 L760.9 691.8 L761.4 690.7 L761.8 691.9 L762.2 690.8 L762.7 691.9 L763.1 691.3 L763.6 691.2 L764.0 693.4 L764.5 692.0 L765.0 694.9 L765.5 693.2 L765.9 695.7 L766.4 695.6 L766.9 696.3 L767.3 686.9 L767.8 690.7 L768.3 680.3 L768.7 683.4 L769.2 678.1 L769.6 676.9 L770.1 698.4 L770.5 688.2 L771.0 708.9 L771.4 707.7 L771.8 708.2 L772.2 707.4 L772.7 708.3 L773.1 707.4 L773.5 708.0 L774.0 707.1 L774.4 708.1 L774.9 706.6 L775.3 707.7 L775.8 706.6 L776.2 718.0 L776.6 710.1 L777.0 733.6 L777.4 732.5 L777.8 732.0 L778.3 733.6 L778.7 732.5 L779.1 733.6 L779.6 732.9 L780.0 733.6 L780.5 733.6 L781.0 733.1 L781.5 733.6 L781.9 733.0 L782.4 733.6 L782.9 733.6 L783.3 721.9 L783.7 730.7 L784.1 711.8 L784.5 715.0 L784.9 715.4 L785.4 697.5 L785.8 704.9 L786.2 694.1 L786.6 681.2 L787.1 690.9 L787.5 666.7 L788.0 674.2 L788.4 663.3 L788.9 664.3 L789.4 644.2 L789.9 645.1 L790.4 642.0 L790.8 659.0 L791.3 655.0 L791.8 663.6 L792.3 653.4 L792.8 663.7 L793.2 647.4 L793.7 654.7 L794.1 629.3 L794.6 632.3 L795.0 617.0 L795.4 619.5 L795.9 602.2 L796.3 610.6 L796.8 592.1 L797.2 595.0 L797.7 586.7 L798.1 597.1 L798.5 580.7 L799.0 584.0 L799.5 587.1 L800.0 574.3 L800.4 581.5 L800.9 575.0 L801.3 576.0 L801.8 597.0 L802.2 617.0 L802.7 619.6 L803.2 618.9 L803.6 620.1 L804.0 619.1 L804.5 619.6 L805.0 621.4 L805.5 620.2 L806.0 621.8 L806.4 608.4 L806.9 618.7 L807.3 596.2 L807.8 602.7 L808.2 590.0 L808.6 605.1 L809.1 593.1 L809.5 610.8 L810.0 605.0 L810.4 617.0 L810.9 619.7 L811.4 643.4 L811.9 649.4 L812.3 649.7 L812.7 628.9 L813.1 640.4 L813.5 625.0 L813.9 610.7 L814.4 621.3 L814.8 605.4 L815.2 606.6 L815.6 605.5 L816.1 607.6 L816.5 607.0 L816.9 606.6 L817.3 610.7 L817.7 608.7 L818.1 610.8 L818.5 609.2 L819.0 589.3 L819.4 594.3 L819.9 573.4 L820.3 570.8 L820.8 569.3 L821.2 570.2 L821.7 567.7 L822.1 569.0 L822.6 566.4 L823.0 568.1 L823.5 566.0 L823.9 566.5 L824.4 564.0 L824.8 565.3 L825.2 563.4 L825.6 564.3 L826.0 562.3 L826.5 563.6 L826.9 562.4 L827.3 555.2 L827.8 563.0 L828.2 548.8 L828.6 559.1 L829.1 545.3 L829.5 548.0 L830.0 551.3 L830.5 536.7 L831.0 547.0 L831.4 533.2 L831.9 540.4 L832.4 534.3 L832.8 532.8 L833.3 535.2 L833.7 531.9 L834.1 535.0 L834.6 531.9 L835.0 533.0 L835.5 533.6 L836.0 531.5 L836.5 533.9 L836.9 531.4 L837.4 533.4 L837.9 532.1 L838.5 516.2 L839.0 515.0 L839.5 516.1 L840.1 499.0 L840.5 489.1 L840.9 500.1 L841.3 492.0 L841.8 495.6 L842.2 478.7 L842.7 481.7 L843.2 469.8 L843.6 475.0 L844.0 454.6 L844.5 455.0 L845.0 456.5 L845.5 448.9 L846.0 450.9 L846.5 439.7 L846.9 449.6 L847.3 431.2 L847.8 432.0 L848.3 431.8 L848.8 408.7 L849.3 406.9 L849.8 393.0 L850.3 403.7 L850.8 390.0 L851.3 392.7 L851.7 376.9 L852.2 379.8 L852.6 382.8 L853.0 400.0 L853.4 418.9 L853.7 420.0 L854.2 431.4 L854.8 458.0 L855.3 482.0 L855.9 490.9 L856.5 467.0 L857.0 462.0 L857.5 454.6 L858.1 433.3 L858.7 408.5 L859.2 398.0 L859.6 401.8 L860.0 386.8 L860.4 396.3 L860.8 389.0 L861.2 384.0 L861.6 391.4 L862.1 379.6 L862.5 382.6 L862.9 385.7 L863.4 374.0 L863.8 381.9 L864.2 377.0 L864.6 374.8 L865.0 378.5 L865.4 374.4 L865.8 375.4 L866.2 387.7 L866.6 375.7 L867.0 388.0 L867.5 384.0 L868.0 398.5 L868.4 397.0 L868.8 371.4 L869.2 367.6 L869.7 370.9 L870.1 391.2 L870.6 377.8 L871.1 351.6 L871.5 356.2 L872.0 376.2 L872.4 364.7 L872.8 338.0 L873.1 328.5 L873.5 331.4 L873.9 349.3 L874.3 352.2 L874.6 338.1 L875.0 338.6 L875.4 357.8 L875.7 361.0 L876.0 358.1 L876.4 363.2 L876.8 358.0 L877.3 339.6 L877.7 341.8 L878.1 359.2 L878.5 352.8 L879.0 330.6 L879.5 333.7 L879.9 350.2 L880.3 342.3 L880.8 317.0 L881.2 306.5 L881.7 310.0 L882.0 302.1 L882.4 284.1 L883.0 264.5 L883.5 257.7 L884.0 258.2 L884.4 257.2 L884.8 258.2 L885.3 257.6 L885.8 271.5 L886.2 302.2 L886.7 290.4 L887.1 263.6 L887.5 271.0 L887.9 295.2 L888.3 276.2 L888.8 248.0 L889.4 240.0 L889.8 241.2 L890.1 230.7 L890.6 230.5 L891.0 233.0 L891.5 233.0 L891.9 235.2 L892.3 233.9 L892.7 235.7 L893.0 252.7 L893.4 284.1 L894.0 304.8 L894.5 310.0 L895.0 319.6 L895.4 343.4 L895.8 344.6 L896.2 329.2 L896.6 330.0 L897.0 321.4 L897.4 326.8 L897.8 316.6 L898.2 317.8 L898.6 292.6 L899.0 292.0 L899.4 280.4 L899.8 288.8 L900.2 275.0 L900.7 274.4 L901.2 258.6 L901.7 259.3 L902.2 264.3 L902.7 285.0 L903.2 305.5 L903.7 306.5 L904.2 298.1 L904.7 303.3 L905.2 288.8 L905.7 290.0 L906.2 291.2 L906.7 277.4 L907.2 283.4 L907.7 274.7 L908.2 274.5 L908.7 281.2 L909.2 278.9 L909.7 283.0 L910.2 288.2 L910.7 283.8 L911.1 291.4 L911.6 291.1 L912.1 273.9 L912.5 280.4 L913.0 268.0 L913.4 265.9 L913.9 246.1 L914.3 246.1 L914.8 245.6 L915.3 246.6 L915.8 245.2 L916.3 246.0 L916.8 246.2 L917.3 244.9 L917.8 245.7 L918.3 244.9 L918.7 230.4 L919.2 238.1 L919.6 226.0 L920.0 224.2 L920.5 205.8 L920.9 207.0 L921.5 191.8 L922.0 190.0 L922.5 188.6 L923.1 175.6 L923.5 179.2 L923.9 197.2 L924.2 194.0 L924.6 174.6 L925.0 174.0 L925.3 176.0 L925.7 193.6 L926.2 187.7 L926.6 205.0 L927.0 204.5 L927.5 231.8 L927.9 230.6 L928.4 229.7 L928.9 209.8 L929.4 209.0 L929.9 192.4 L930.3 200.7 L930.8 187.2 L931.3 188.0 L931.9 172.0 L932.5 157.4 L933.0 158.6 L933.5 159.1 L934.1 155.0 L934.7 154.4 L935.2 155.8 L935.7 175.9 L936.2 178.0 L936.7 182.6 L937.1 198.0 L937.5 213.9 L938.0 214.0 L938.4 199.3 L938.8 206.7 L939.2 191.6 L939.6 202.4 L940.0 201.2 L940.4 184.5 L940.7 180.0 L941.2 181.2 L941.8 171.2 L942.3 175.8 L942.9 195.2 L943.5 189.7 L944.0 172.6 L944.5 176.5 L945.1 192.2 L945.7 186.3 L946.2 167.9 L946.6 167.8 L947.1 185.2 L947.5 184.0 L948.0 197.2 L948.5 200.0 L949.0 201.1 L949.5 209.6 L950.0 207.8 L950.6 197.0 L951.2 184.9 L951.7 183.0 L952.2 184.1 L952.8 173.4 L953.1 181.2 L953.5 199.2 L953.9 195.9 L954.2 178.6 L954.6 180.6 L955.0 273.1 L955.6 310.0 L956.0 324.7 L956.5 321.3 L957.0 338.7 L957.4 343.0 L957.9 348.4 L958.3 381.6 L958.8 387.0 L959.2 398.8 L959.7 399.2 L960.1 417.1 L960.6 420.0 L961.0 442.9 L961.4 490.1 L961.8 515.2 L962.3 507.5 L962.8 483.0 L963.3 462.9 L963.8 454.6 L964.2 464.0 L964.6 457.5 L965.1 469.7 L965.5 469.0 L965.9 467.8 L966.3 479.8 L966.7 472.3 L967.1 480.2 L967.5 481.4 L968.0 463.6 L968.4 473.1 L968.8 460.0 L969.2 448.7 L969.6 459.2 L970.0 441.4 L970.4 442.6 L971.0 458.5 L971.5 464.0 L972.0 467.4 L972.6 484.0 L973.0 498.2 L973.4 490.2 L973.8 507.5 L974.2 508.0 L974.6 508.7 L975.0 525.5 L975.5 513.9 L975.9 528.2 L976.3 529.4 L976.7 518.9 L977.1 524.1 L977.5 516.0 L977.9 510.0 L978.4 514.8 L978.8 504.9 L979.2 505.6 L979.6 509.7 L980.0 505.5 L980.4 511.0 L980.8 511.0 L981.2 510.3 L981.6 514.2 L982.1 513.1 L982.5 515.2 L982.9 515.4 L983.4 513.4 L983.8 515.0 L984.3 512.9 L984.7 513.0 L985.1 512.2 L985.6 513.0 L986.0 511.7 L986.5 512.8 L986.9 512.0 L987.3 519.0 L987.7 514.2 L988.1 525.2 L988.5 524.0 L988.9 524.5 L989.4 533.7 L989.8 532.9 L990.2 539.0 L990.6 546.6 L991.1 544.3 L991.5 556.2 L992.0 553.9 L992.4 561.0 L992.8 562.2 L993.2 576.6 L993.7 573.4 L994.1 584.0 L994.5 593.8 L995.0 593.9 L995.4 606.9 L995.9 604.6 L996.3 617.0 L996.7 619.7 L997.2 632.2 L997.6 631.5 L998.1 643.2 L998.5 645.7 L999.0 664.8 L999.6 674.7 L1000.0 673.3 L1000.4 673.6 L1000.8 671.7 L1001.2 671.6 L1001.6 684.3 L1002.0 679.3 L1002.5 698.9 L1002.9 698.5 L1003.3 697.8 L1003.8 709.4 L1004.2 706.0 L1004.7 715.7 L1005.1 716.1 L1005.5 728.5 L1005.9 719.3 L1006.3 733.2 L1006.7 733.2 L1007.1 724.6 L1007.6 730.2 L1008.0 712.5 L1008.5 720.4 L1008.9 711.7 L1009.3 708.9 L1009.8 680.3 L1010.2 682.2 L1010.6 663.3 L1011.0 654.3 L1011.5 660.5 L1012.0 650.0 L1012.4 649.5 L1012.8 658.5 L1013.3 651.4 L1013.7 666.3 L1014.1 660.3 L1014.6 673.3 L1015.0 672.1 L1015.5 670.9 L1015.9 694.9 L1016.3 684.4 L1016.8 697.8 L1017.3 699.0 L1017.7 676.8 L1018.2 678.0 L1018.6 666.2 L1019.0 669.9 L1019.4 658.9 L1019.8 659.0 L1020.2 651.2 L1020.7 653.6 L1021.1 645.4 L1021.5 646.0 L1022.0 641.6 L1022.4 644.5 L1022.9 638.6 L1023.3 640.5 L1023.8 637.4 L1024.2 642.6 L1024.6 637.4 L1025.0 646.8 L1025.4 647.0 L1025.8 645.8 L1026.2 658.0 L1026.7 650.9 L1027.1 658.9 L1027.5 666.5 L1027.9 660.7 L1028.3 671.2 L1028.7 670.0 L1029.1 668.8 L1029.6 678.3 L1030.0 672.5 L1030.4 679.1 L1030.9 678.9 L1031.3 671.5 L1031.8 675.3 L1032.3 667.8 L1032.8 670.9 L1033.2 663.4 L1033.7 664.6 L1034.1 665.0 L1034.6 673.0 L1035.0 669.4 L1035.5 677.5 L1035.9 676.9 L1036.3 677.6 L1036.8 666.4 L1037.2 673.0 L1037.6 665.0 L1038.0 659.2 L1038.4 664.1 L1038.8 654.2 L1039.2 655.0 L1039.7 659.5 L1040.2 656.0 L1040.7 664.1 L1041.2 664.0 L1041.7 664.4 L1042.2 670.5 L1042.7 667.4 L1043.2 672.5 L1043.7 672.6 L1044.1 669.2 L1044.6 671.1 L1045.0 667.5 L1045.5 668.0 L1045.9 666.3 L1046.3 667.3 L1046.8 664.7 L1047.2 666.0 L1047.6 662.9 L1048.0 663.3 L1048.4 663.2 L1048.9 659.7 L1049.3 661.5 L1049.8 657.8 L1050.2 658.0 L1050.6 655.2 L1051.1 657.9 L1051.5 653.3 L1052.0 655.5 L1052.4 652.3 L1052.8 652.7 L1053.3 644.2 L1053.7 647.7 L1054.2 639.8 L1054.6 641.0 L1055.0 636.1 L1055.5 640.6 L1055.9 632.2 L1056.4 635.1 L1056.8 630.2 L1057.2 631.0 L1057.7 625.6 L1058.2 627.3 L1058.6 621.7 L1059.0 625.3 L1059.5 621.0 L1060.0 618.1 L1060.5 619.6 L1061.0 615.2 L1061.4 617.8 L1061.9 612.7 L1062.4 612.6 L1062.8 613.8 L1063.2 602.9 L1063.6 608.6 L1064.0 601.0 L1064.4 595.6 L1064.8 599.7 L1065.3 589.4 L1065.7 590.6 L1066.1 591.8 L1066.5 582.8 L1066.9 587.3 L1067.3 582.0 L1067.7 578.6 L1068.2 580.7 L1068.6 575.5 L1069.0 576.6 L1069.4 587.8 L1069.8 579.5 L1070.3 595.2 L1070.7 594.0 L1071.2 593.2 L1071.6 605.3 L1072.0 601.0 L1072.5 608.2 L1073.0 609.4 L1073.5 590.8 L1074.0 592.0 L1074.5 582.8 L1074.9 587.4 L1075.3 574.9 L1075.8 576.1 L1076.2 582.1 L1076.6 577.2 L1077.0 587.2 L1077.4 586.0 L1077.9 584.8 L1078.4 596.7 L1078.9 597.2 L1079.3 607.5 L1079.8 598.0 L1080.2 617.6 L1080.7 610.0 L1081.1 619.6 L1081.6 619.0 L1082.0 620.7 L1082.5 619.5 L1083.0 620.9 L1083.5 619.9 L1083.9 621.3 L1084.4 620.6 L1084.8 633.7 L1085.3 626.6 L1085.7 647.4 L1086.2 636.1 L1086.6 650.1 L1087.1 649.0 L1087.6 676.3 L1088.1 675.8 L1088.6 677.0 L1089.0 654.0 L1089.5 654.0 L1090.0 637.4 L1090.5 645.5 L1091.0 634.0 L1091.5 638.5 L1092.0 635.0 L1092.5 641.0 L1093.0 641.0 L1093.5 640.2 L1094.0 645.7 L1094.4 643.5 L1094.9 649.2 L1095.4 648.3 L1095.9 648.2 L1096.3 641.1 L1096.8 644.5 L1097.3 636.9 L1097.8 639.6 L1098.2 630.6 L1098.7 631.8 L1099.1 631.0 L1099.6 639.2 L1100.0 635.1 L1100.5 645.1 L1100.9 643.9 L1101.3 645.1 L1101.7 632.6 L1102.1 640.4 L1102.5 631.0 L1102.9 623.1 L1103.3 628.1 L1103.8 618.5 L1104.2 619.2 L1104.7 619.0 L1105.1 613.9 L1105.6 615.7 L1106.1 608.6 L1106.6 612.8 L1107.0 606.2 L1107.5 606.0 L1107.9 603.2 L1108.3 605.1 L1108.8 599.5 L1109.2 602.8 L1109.6 596.8 L1110.0 598.0 L1110.4 598.0 L1110.9 593.8 L1111.3 596.0 L1111.7 592.1 L1112.1 594.7 L1112.6 589.8 L1113.0 590.6 L1113.5 585.2 L1113.9 589.1 L1114.4 579.1 L1114.8 581.9 L1115.3 577.0 L1115.7 577.6 L1116.1 568.8 L1116.6 573.3 L1117.0 563.8 L1117.4 564.2 L1117.8 561.2 L1118.3 563.8 L1118.7 559.3 L1119.1 560.6 L1119.6 556.2 L1120.0 557.0 L1120.5 557.3 L1121.0 555.2 L1121.5 555.9 L1121.9 553.5 L1122.4 555.1 L1122.9 553.6 L1123.3 553.1 L1123.7 558.6 L1124.1 555.1 L1124.5 560.0 L1124.9 565.6 L1125.3 560.8 L1125.8 569.1 L1126.2 568.6 L1126.7 569.5 L1127.2 589.6 L1127.7 590.0 L1128.2 600.5 L1128.6 593.4 L1129.1 606.4 L1129.6 594.9 L1130.0 603.9 L1130.5 584.2 L1131.0 585.0 L1131.5 586.2 L1131.9 567.8 L1132.3 578.4 L1132.8 564.2 L1133.2 562.3 L1133.7 564.0 L1134.1 560.7 L1134.6 562.2 L1135.0 560.0 L1135.4 560.2 L1135.9 557.9 L1136.3 559.3 L1136.8 557.0 L1137.2 557.6 L1137.7 553.5 L1138.1 556.4 L1138.5 549.8 L1139.0 551.0 L1139.5 551.2 L1140.0 548.1 L1140.4 549.8 L1140.9 547.8 L1141.4 547.5 L1141.9 554.9 L1142.4 552.6 L1142.9 558.0 L1143.4 563.5 L1143.9 560.4 L1144.4 570.2 L1144.9 569.0 L1145.3 564.0 L1145.7 568.3 L1146.1 558.8 L1146.5 560.0 L1146.9 560.2 L1147.3 553.9 L1147.8 556.3 L1148.2 552.6 L1148.6 551.4 L1149.0 561.7 L1149.4 557.2 L1149.8 564.0 L1150.2 571.4 L1150.7 565.0 L1151.1 578.6 L1151.5 577.4 L1152.0 576.2 L1152.4 596.1 L1152.8 589.2 L1153.3 599.8 L1153.8 601.0 L1154.2 583.6 L1154.7 589.0 L1155.2 577.0 L1155.7 566.1 L1156.1 574.6 L1156.5 555.8 L1157.0 557.0 L1157.4 557.5 L1157.8 556.2 L1158.3 557.8 L1158.7 557.0 L1159.1 557.0 L1159.5 559.7 L1159.9 558.0 L1160.3 559.8 L1160.7 566.2 L1161.2 561.9 L1161.6 572.0 L1162.1 567.1 L1162.5 574.5 L1162.9 567.3 L1163.3 574.1 L1163.8 561.8 L1164.2 563.0 L1164.6 564.2 L1165.0 554.3 L1165.4 560.0 L1165.8 552.6 L1166.2 552.0 L1166.7 553.4 L1167.2 552.0 L1167.6 553.3 L1168.0 552.4 L1168.5 553.0 L1169.0 554.1 L1169.4 552.9 L1169.9 554.8 L1170.4 553.6 L1170.8 555.6 L1171.3 555.4 L1171.8 555.1 L1172.2 559.7 L1172.7 557.9 L1173.1 563.4 L1173.5 561.2 L1174.0 564.0 L1174.5 567.0 L1174.9 564.8 L1175.4 570.6 L1175.9 567.7 L1176.3 573.1 L1176.8 573.0 L1177.2 572.3 L1177.6 598.0 L1178.0 589.0 L1178.4 606.0 L1178.8 611.6 L1179.2 607.9 L1179.7 617.0 L1180.1 617.4 L1180.5 613.8 L1181.0 617.2 L1181.4 611.2 L1181.9 613.4 L1182.3 611.0 L1182.7 611.3 L1183.2 607.1 L1183.6 609.3 L1184.1 605.4 L1184.5 605.4 L1184.9 604.2 L1185.3 612.2 L1185.8 608.8 L1186.2 614.0 L1186.6 618.9 L1187.0 615.1 L1187.4 623.7 L1187.8 623.6 L1188.3 624.3 L1188.8 635.7 L1189.3 635.0 L1189.8 641.1 L1190.2 636.4 L1190.7 643.9 L1191.2 640.6 L1191.6 642.7 L1192.1 637.8 L1192.5 639.2 L1193.0 636.0 L1193.4 636.5 L1193.8 631.3 L1194.2 633.9 L1194.7 628.2 L1195.1 630.7 L1195.5 628.0 L1195.9 623.6 L1196.4 626.4 L1196.8 620.2 L1197.3 623.8 L1197.7 620.0 L1198.1 620.4 L1198.6 614.8 L1199.0 618.2 L1199.5 611.4 L1199.9 612.6 L1200.4 609.7 L1200.9 611.0 L1201.3 607.4 L1201.8 609.4 L1202.3 606.0 L1202.7 606.7 L1203.1 602.8 L1203.5 604.5 L1204.0 601.3 L1204.4 602.7 L1204.8 601.0 L1205.3 601.5 L1205.7 613.2 L1206.2 613.0 L1206.7 626.4 L1207.1 616.1 L1207.6 628.0 L1208.2 640.9 L1208.7 672.1 L1209.2 693.0 L1209.8 704.4 L1210.3 689.2 L1210.9 684.0 L1211.5 677.4 L1212.0 663.3 L1212.4 655.0 L1212.9 659.1 L1213.3 644.5 L1213.8 652.0 L1214.2 643.5 L1214.6 644.2 L1215.1 636.1 L1215.5 640.9 L1216.0 631.8 L1216.4 633.0 L1216.8 628.4 L1217.3 631.8 L1217.7 624.0 L1218.2 627.8 L1218.6 623.6 L1219.0 624.2 L1219.4 611.3 L1219.9 617.2 L1220.3 610.0 L1220.7 603.5 L1221.1 608.3 L1221.5 597.6 L1221.9 598.8 L1222.3 602.4 L1222.7 599.7 L1223.1 605.7 L1223.5 605.0 L1223.9 605.1 L1224.3 610.5 L1224.8 608.0 L1225.2 610.8 L1225.6 612.0 L1226.1 592.7 L1226.5 601.3 L1227.0 583.8 L1227.4 584.0 L1227.8 575.1 L1228.2 584.5 L1228.6 567.4 L1229.0 570.0 L1229.4 573.7 L1229.8 557.1 L1230.3 568.6 L1230.7 558.0 L1231.2 545.8 L1231.6 553.1 L1232.0 535.2 L1232.5 536.1 L1232.9 540.1 L1233.3 522.0 L1233.8 531.1 L1234.2 520.0 L1234.6 509.1 L1235.0 522.3 L1235.4 505.7 L1235.8 509.7 L1236.2 511.8 L1236.6 493.2 L1237.0 495.0 L1237.5 480.7 L1238.0 483.3 L1238.5 485.6 L1238.9 465.7 L1239.4 467.0 L1239.9 455.2 L1240.4 465.8 L1240.9 454.0 L1241.4 471.9 L1241.9 467.3 L1242.4 482.6 L1242.9 466.6 L1243.4 466.5 L1243.9 449.6 L1244.3 455.5 L1244.7 450.1 L1245.1 461.2 L1245.5 460.2 L1246.0 457.1 L1246.5 459.2 L1247.0 456.6 L1247.5 468.2 L1248.0 460.6 L1248.5 474.2 L1248.9 471.1 L1249.3 474.3 L1249.7 466.8 L1250.1 468.0 L1250.7 462.8 L1251.2 445.0 L1251.8 427.9 L1252.3 423.2 L1252.7 432.5 L1253.2 424.3 L1253.6 438.2 L1254.0 437.0 L1254.4 437.1 L1254.8 451.4 L1255.2 444.9 L1255.6 452.4 L1256.2 464.9 L1256.7 464.0 L1257.2 463.5 L1257.8 474.5 L1258.3 507.4 L1258.9 521.1 L1259.5 520.6 L1260.0 521.6 L1260.5 527.6 L1261.1 528.8 L1261.5 510.0 L1262.0 519.1 L1262.5 493.6 L1262.9 492.1 L1263.5 490.1 L1264.0 480.0 L1264.5 470.5 L1265.1 471.6 L1265.5 485.2 L1266.0 477.0 L1266.4 492.0 L1266.8 490.8 L1267.3 512.4 L1267.7 511.2 L1268.1 508.4 L1268.6 486.9 L1269.0 488.0 L1269.5 473.6 L1269.9 481.8 L1270.4 465.7 L1270.8 461.4 L1271.3 444.0 L1271.7 426.9 L1272.1 423.8 L1272.6 424.4 L1273.0 414.4 L1273.5 414.0 L1273.9 411.0 L1274.4 413.5 L1274.8 410.0 L1275.3 411.3 L1275.7 410.6 L1276.2 412.0 L1276.7 410.9 L1277.1 418.0 L1277.6 417.2 L1278.2 433.6 L1278.7 435.0 L1279.2 438.6 L1279.8 452.4 L1280.2 459.4 L1280.6 455.0 L1281.0 467.3 L1281.4 466.1 L1281.8 451.5 L1282.3 452.0 L1282.7 453.2 L1283.1 437.0 L1283.7 422.0 L1284.2 418.3" stroke="#F5C342" stroke-width="6.1" fill="none" stroke-linejoin="round" stroke-linecap="round" clip-path="url(#plot)"/>
<path d="M81.5 338.0 C82.1 338.5 83.5 339.6 84.9 341.0 C86.3 342.4 88.7 344.4 90.1 346.4 C91.5 348.4 92.1 349.7 93.3 353.0 C94.5 356.3 96.3 361.8 97.4 366.2 C98.5 370.6 98.9 375.8 99.7 379.4 C100.5 383.0 101.1 386.8 102.0 387.7 C102.9 388.6 103.9 385.6 105.0 384.5 C106.1 383.4 107.1 382.0 108.6 381.0 C110.1 380.0 112.2 379.1 114.0 378.3 C115.8 377.6 117.7 378.0 119.6 376.5 C121.5 375.0 124.0 370.8 125.6 369.5 C127.2 368.2 127.8 368.7 129.0 369.0 C130.2 369.3 131.6 370.0 132.8 371.5 C134.1 373.0 135.2 375.2 136.5 378.0 C137.8 380.8 139.1 385.8 140.5 388.3 C141.9 390.8 143.3 391.4 145.0 393.0 C146.7 394.6 149.0 395.7 150.4 398.2 C151.8 400.7 152.4 404.3 153.5 408.0 C154.6 411.7 155.6 416.4 157.0 420.2 C158.4 424.0 160.2 427.7 162.0 431.0 C163.8 434.3 165.9 438.3 168.0 440.0 C170.1 441.7 173.0 440.3 174.7 441.2 C176.4 442.1 176.3 444.7 178.0 445.6 C179.7 446.5 182.8 447.5 184.6 446.7 C186.4 445.9 187.3 443.2 189.0 441.0 C190.7 438.8 192.5 436.8 194.5 433.5 C196.5 430.2 198.8 425.0 201.0 421.0 C203.2 417.0 206.0 411.8 207.7 409.6 C209.4 407.4 209.9 408.0 211.0 407.8 C212.1 407.6 212.7 406.9 214.3 408.2 C216.0 409.5 218.3 411.8 220.9 415.8 C223.5 419.8 226.6 425.9 229.7 432.4 C232.8 438.8 236.6 447.2 239.3 454.5 C242.0 461.8 243.7 469.0 245.9 476.4 C248.1 483.8 250.5 492.3 252.5 498.9 C254.5 505.5 255.9 510.9 257.7 516.0 C259.4 521.1 261.2 525.1 263.0 529.3 C264.8 533.5 266.5 537.4 268.3 541.1 C270.1 544.8 272.2 549.2 273.6 551.7 C275.1 554.2 276.0 555.1 277.0 556.0 C278.0 556.9 278.6 557.4 279.5 557.3 C280.4 557.2 281.3 556.7 282.3 555.5 C283.3 554.3 284.3 553.3 285.5 550.0 C286.7 546.7 287.9 542.7 289.4 535.9 C290.9 529.1 292.9 517.1 294.7 509.4 C296.5 501.7 298.2 495.5 300.0 489.6 C301.8 483.7 303.7 478.2 305.3 473.8 C306.9 469.4 307.8 467.5 309.5 463.0 C311.2 458.5 313.8 449.8 315.5 446.7 C317.2 443.6 318.8 443.9 319.9 444.5 C321.0 445.1 321.3 447.4 322.0 450.0 C322.7 452.6 322.4 454.2 324.3 459.9 C326.2 465.6 330.2 477.3 333.1 484.1 C336.0 490.9 339.3 497.3 341.9 500.6 C344.5 503.9 346.3 503.7 348.5 503.9 C350.7 504.1 353.3 503.5 355.1 501.7 C356.9 499.9 358.0 496.3 359.5 493.0 C361.0 489.7 362.1 485.4 363.9 481.9 C365.6 478.3 367.9 474.7 370.0 471.7 C372.1 468.7 374.8 464.8 376.6 464.0 C378.4 463.2 379.5 465.5 381.0 467.0 C382.5 468.5 383.4 471.0 385.4 472.8 C387.4 474.6 391.0 477.6 393.1 477.7 C395.2 477.8 396.4 475.2 398.0 473.5 C399.6 471.8 400.3 471.3 403.0 467.3 C405.7 463.3 410.7 454.6 414.0 449.7 C417.3 444.8 420.4 439.6 422.8 437.6 C425.2 435.6 426.5 435.0 428.3 437.6 C430.1 440.2 431.4 447.1 433.8 453.0 C436.2 458.9 439.9 466.6 442.6 472.8 C445.4 479.0 447.4 485.1 450.3 490.4 C453.2 495.7 457.4 501.4 460.2 504.7 C462.9 508.0 464.6 507.4 466.8 510.2 C469.0 513.0 470.8 519.0 473.4 521.2 C476.0 523.4 479.4 522.1 482.2 523.4 C484.9 524.7 487.7 527.2 489.9 529.0 C492.1 530.8 493.5 533.8 495.5 534.0 C497.5 534.2 500.1 530.5 502.1 530.0 C504.1 529.5 505.8 528.9 507.6 530.7 C509.4 532.5 510.9 537.5 513.1 541.0 C515.3 544.5 518.2 546.9 520.8 552.0 C523.4 557.1 525.8 565.6 528.5 571.9 C531.2 578.1 534.4 584.0 537.3 589.5 C540.2 595.0 543.2 600.7 546.1 604.9 C549.0 609.1 552.3 612.0 554.9 614.8 C557.5 617.6 560.0 620.2 561.5 621.5 C563.0 622.8 562.9 622.5 564.0 622.7 C565.1 622.9 566.0 623.0 568.0 622.5 C570.0 622.0 573.4 621.0 575.8 620.0 C578.2 619.0 580.6 618.2 582.4 616.8 C584.2 615.4 585.4 613.2 586.5 611.5 C587.6 609.8 588.2 608.5 589.0 606.5 C589.8 604.5 590.8 601.6 591.5 599.5 C592.2 597.4 591.9 597.6 593.5 594.0 C595.1 590.4 598.7 583.4 601.1 578.0 C603.5 572.6 605.9 568.5 607.7 561.5 C609.5 554.5 610.3 546.8 612.1 536.0 C613.9 525.2 616.5 509.7 618.7 497.0 C620.9 484.3 623.4 471.9 625.3 459.6 C627.2 447.3 628.8 434.3 630.2 423.1 C631.6 411.9 632.3 401.8 633.6 392.3 C634.9 382.8 636.4 372.7 638.0 365.9 C639.6 359.1 641.5 356.4 643.5 351.6 C645.5 346.8 648.3 340.5 650.1 337.3 C651.9 334.1 652.9 332.2 654.5 332.2 C656.1 332.2 658.4 334.6 660.0 337.3 C661.6 340.0 662.8 342.1 664.4 348.3 C666.0 354.5 668.1 365.9 669.9 374.7 C671.7 383.5 673.8 393.2 675.4 401.1 C677.0 409.0 677.6 414.9 679.4 422.0 C681.2 429.1 683.4 437.4 686.0 444.0 C688.6 450.6 691.9 456.1 694.8 461.6 C697.7 467.1 700.7 473.0 703.6 477.0 C706.5 481.0 709.8 482.1 712.4 485.8 C715.0 489.5 716.8 494.6 719.0 499.0 C721.2 503.4 723.5 506.8 725.7 512.3 C727.9 517.8 729.7 525.9 732.3 532.1 C734.9 538.3 738.2 543.5 741.1 549.7 C744.0 555.9 747.3 564.0 749.9 569.5 C752.5 575.0 754.3 579.2 756.5 582.7 C758.7 586.2 760.7 588.4 763.1 590.4 C765.5 592.4 768.4 594.8 770.8 594.8 C773.2 594.8 775.6 593.5 777.4 590.4 C779.2 587.3 780.5 582.9 781.8 576.1 C783.1 569.3 783.8 560.7 785.1 549.7 C786.4 538.7 788.2 521.1 789.5 510.1 C790.8 499.1 791.7 493.9 792.8 483.6 C793.9 473.3 795.0 459.4 796.1 448.4 C797.2 437.4 798.4 429.2 799.4 417.6 C800.4 406.1 800.8 394.7 801.9 379.1 C803.0 363.5 804.8 341.0 806.3 324.1 C807.8 307.2 809.4 290.1 810.7 278.0 C812.0 265.9 813.0 257.1 814.0 251.4 C815.0 245.7 816.1 245.1 817.0 243.5 C817.9 241.9 818.4 241.6 819.1 241.8 C819.9 242.0 820.6 242.3 821.5 244.5 C822.4 246.7 823.4 249.4 824.5 255.0 C825.6 260.6 826.8 268.1 828.4 277.8 C830.0 287.5 832.2 300.3 833.9 313.0 C835.5 325.7 836.6 339.8 838.3 354.0 C839.9 368.2 842.1 383.3 843.8 398.0 C845.4 412.7 846.6 428.9 848.2 442.1 C849.9 455.3 852.2 469.8 853.7 477.3 C855.2 484.8 855.7 485.2 857.0 487.2 C858.3 489.2 859.6 490.7 861.4 489.4 C863.2 488.1 865.8 483.7 868.0 479.5 C870.2 475.3 872.7 468.9 874.7 464.1 C876.7 459.3 878.6 457.5 880.2 450.9 C881.9 444.3 883.3 432.6 884.6 424.5 C885.9 416.4 886.9 407.4 887.9 402.4 C888.9 397.4 889.6 394.7 890.7 394.7 C891.8 394.7 892.4 398.2 894.5 402.4 C896.6 406.6 900.5 414.9 903.3 420.0 C906.0 425.1 908.6 428.2 911.0 433.3 C913.4 438.4 915.8 446.5 917.6 450.9 C919.4 455.3 920.4 457.9 922.0 459.7 C923.6 461.5 925.7 459.3 927.5 461.5 C929.3 463.7 931.2 468.8 933.0 472.9 C934.8 477.0 936.7 482.1 938.5 486.1 C940.3 490.2 941.6 492.1 944.0 497.2 C946.4 502.3 950.4 511.9 952.8 517.0 C955.2 522.1 956.6 526.0 958.3 528.0 C959.9 530.0 961.1 531.3 962.7 529.1 C964.4 526.9 966.4 521.6 968.2 514.8 C970.0 507.9 971.9 497.2 973.7 488.0 C975.5 478.8 977.4 468.8 979.2 459.7 C981.0 450.6 982.9 442.1 984.7 433.3 C986.5 424.5 988.6 413.3 990.2 406.9 C991.9 400.5 993.0 397.5 994.6 394.7 C996.2 391.9 997.5 391.2 1000.1 390.3 C1002.7 389.4 1007.4 390.9 1010.0 389.2 C1012.6 387.5 1013.5 383.7 1015.5 380.4 C1017.5 377.1 1020.1 372.9 1022.1 369.4 C1024.1 365.9 1025.8 363.9 1027.6 359.5 C1029.4 355.1 1031.3 347.6 1033.1 343.0 C1034.9 338.4 1036.9 334.1 1038.6 332.0 C1040.2 329.9 1041.5 329.6 1043.0 330.3 C1044.5 331.0 1045.8 331.0 1047.4 336.4 C1049.1 341.8 1051.1 352.5 1052.9 362.8 C1054.7 373.1 1056.7 385.5 1058.4 398.0 C1060.1 410.5 1061.4 425.7 1062.9 437.7 C1064.4 449.7 1065.7 457.9 1067.3 470.0 C1068.9 482.1 1071.1 499.6 1072.8 510.4 C1074.5 521.2 1075.7 528.5 1077.2 534.6 C1078.7 540.7 1080.3 544.3 1081.6 546.8 C1082.9 549.2 1083.7 550.3 1085.0 549.3 C1086.3 548.3 1087.6 546.7 1089.4 541.0 C1091.2 535.3 1093.8 524.0 1096.0 515.0 C1098.2 506.0 1100.6 495.2 1102.6 487.0 C1104.6 478.8 1106.1 471.1 1108.1 466.0 C1110.1 460.9 1112.8 458.4 1114.7 456.5 C1116.6 454.6 1118.0 453.8 1119.6 454.8 C1121.1 455.8 1122.5 458.8 1124.0 462.5 C1125.5 466.2 1126.4 472.0 1128.4 477.0 C1130.4 482.0 1133.4 487.0 1136.0 492.5 C1138.6 498.0 1141.2 504.8 1143.8 510.0 C1146.4 515.2 1149.4 521.1 1151.5 523.8 C1153.6 526.5 1154.7 527.0 1156.5 526.0 C1158.3 525.0 1160.2 518.3 1162.2 517.8 C1164.2 517.3 1166.1 520.9 1168.6 523.2 C1171.1 525.5 1174.5 528.6 1177.4 531.5 C1180.3 534.4 1183.6 536.9 1186.2 540.3 C1188.8 543.7 1190.6 548.2 1192.9 551.8 C1195.2 555.4 1198.1 558.8 1199.9 562.0 C1201.8 565.2 1202.5 568.6 1204.0 571.0 C1205.5 573.4 1207.5 576.5 1208.7 576.3 C1209.9 576.1 1210.3 572.7 1211.0 570.0 C1211.7 567.3 1212.1 564.9 1213.1 560.0 C1214.1 555.1 1215.5 548.5 1217.1 540.5 C1218.7 532.5 1220.8 522.2 1222.6 511.9 C1224.4 501.6 1226.3 490.3 1228.1 478.9 C1229.9 467.5 1231.9 454.2 1233.6 443.6 C1235.2 433.0 1236.7 423.4 1238.0 415.0 C1239.3 406.6 1240.3 398.3 1241.3 393.0 C1242.3 387.7 1242.8 383.1 1243.9 383.1 C1245.0 383.1 1246.3 387.7 1247.9 393.0 C1249.5 398.3 1251.4 408.4 1253.4 415.0 C1255.4 421.6 1257.4 426.4 1260.0 432.6 C1262.6 438.8 1266.4 446.9 1268.8 452.4 C1271.2 457.9 1272.8 462.2 1274.3 465.7 C1275.8 469.2 1276.3 473.8 1277.6 473.4 C1278.9 473.0 1280.7 466.6 1282.0 463.5 C1283.3 460.4 1284.8 456.2 1285.3 454.7" stroke="#356B2E" stroke-width="6.4" fill="none" stroke-linejoin="round" stroke-linecap="butt" clip-path="url(#plot)"/>
<text transform="translate(284.56 395.60) scale(0.9447 1)" font-size="23.8" fill="#fff">71%</text>
<text transform="translate(596.24 220.30) scale(0.9631 1)" font-size="23.8" fill="#fff">114%</text>
<text transform="translate(925.67 136.40) scale(0.9313 1)" font-size="23.8" fill="#fff">131%</text>
<text transform="translate(1295.26 399.10) scale(0.9426 1)" font-size="23.8" fill="#fff">72%</text>
<path d="M123.3 847.3 H170.9" stroke="#F5C342" stroke-width="6.2" stroke-linecap="round"/>
<path d="M123.3 894.6 H170.9" stroke="#356B2E" stroke-width="6.2" stroke-linecap="round"/>
<text y="855.00" font-size="22.6" fill="#fff"><tspan x="176.51" textLength="33.40" lengthAdjust="spacingAndGlyphs">Chỉ</tspan> <tspan x="215.60" textLength="21.00" lengthAdjust="spacingAndGlyphs">sô</tspan> <tspan x="241.80" textLength="36.75" lengthAdjust="spacingAndGlyphs">VNI</tspan> <tspan x="281.50" textLength="21.53" lengthAdjust="spacingAndGlyphs">từ</tspan> <tspan x="308.40" textLength="33.06" lengthAdjust="spacingAndGlyphs">đáy</tspan> <tspan x="347.60" textLength="36.95" lengthAdjust="spacingAndGlyphs">500</tspan> <tspan x="390.98" textLength="56.50" lengthAdjust="spacingAndGlyphs">phiên</tspan> <tspan x="450.93" textLength="45.08" lengthAdjust="spacingAndGlyphs">(trái)</tspan></text>
<text y="902.50" font-size="22.6" fill="#fff"><tspan x="176.20" textLength="27.13" lengthAdjust="spacingAndGlyphs">Độ</tspan> <tspan x="207.57" textLength="44.01" lengthAdjust="spacingAndGlyphs">biến</tspan> <tspan x="256.20" textLength="49.56" lengthAdjust="spacingAndGlyphs">động</tspan> <tspan x="307.60" textLength="50.16" lengthAdjust="spacingAndGlyphs">bằng</tspan> <tspan x="363.10" textLength="24.04" lengthAdjust="spacingAndGlyphs">độ</tspan> <tspan x="391.38" textLength="42.30" lengthAdjust="spacingAndGlyphs">lệch</tspan> <tspan x="440.00" textLength="58.13" lengthAdjust="spacingAndGlyphs">chuẩn</tspan> <tspan x="502.80" textLength="27.52" lengthAdjust="spacingAndGlyphs">chỉ</tspan> <tspan x="539.00" textLength="22.98" lengthAdjust="spacingAndGlyphs">số</tspan> <tspan x="567.29" textLength="58.44" lengthAdjust="spacingAndGlyphs">(phải)</tspan></text>
<text y="887.20" font-size="24.6" fill="#F5C342" font-style="italic"><tspan x="711.30" textLength="87.05" lengthAdjust="spacingAndGlyphs">Souce:</tspan> <tspan x="805.68" textLength="36.73" lengthAdjust="spacingAndGlyphs">tác</tspan> <tspan x="851.40" textLength="38.39" lengthAdjust="spacingAndGlyphs">giả</tspan> <tspan x="894.83" textLength="92.46" lengthAdjust="spacingAndGlyphs">(Huỳnh</tspan> <tspan x="995.30" textLength="80.34" lengthAdjust="spacingAndGlyphs">Hoàng</tspan> <tspan x="1084.90" textLength="106.92" lengthAdjust="spacingAndGlyphs">Phương)</tspan> <tspan x="1197.54" textLength="47.44" lengthAdjust="spacingAndGlyphs">tính</tspan> <tspan x="1251.52" textLength="56.48" lengthAdjust="spacingAndGlyphs">toán</tspan></text>
</svg></body></html>
